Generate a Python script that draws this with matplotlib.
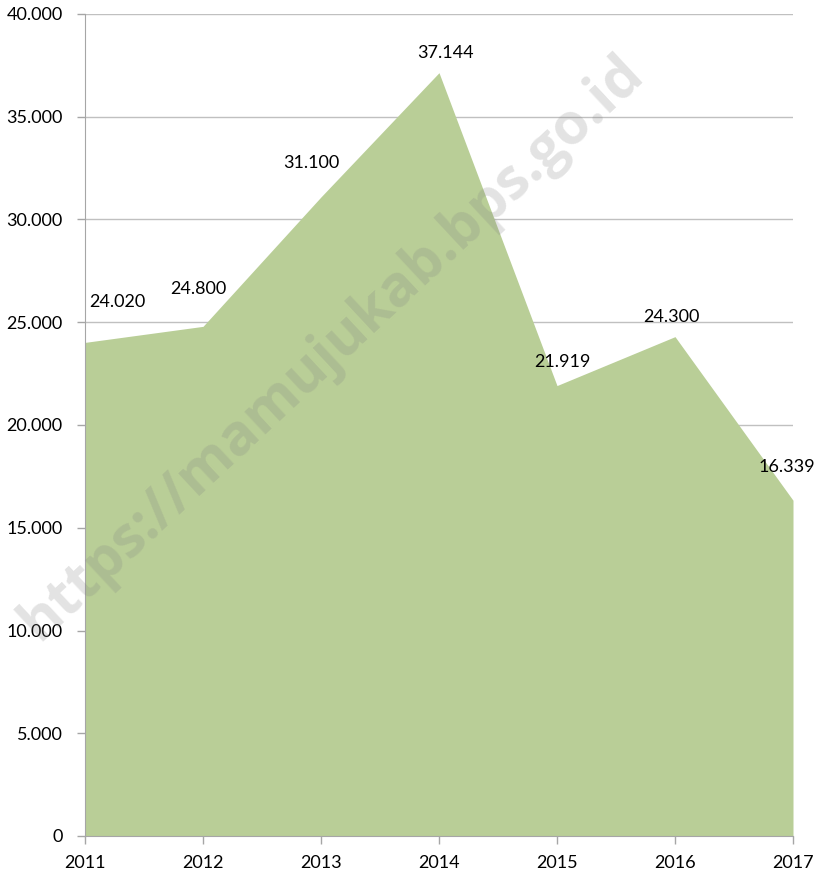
import matplotlib
matplotlib.use("Agg")
import matplotlib.pyplot as plt
from matplotlib.ticker import FuncFormatter

years = [2011, 2012, 2013, 2014, 2015, 2016, 2017]
values = [24020, 24800, 31100, 37144, 21919, 24300, 16339]
labels = ["24.020", "24.800", "31.100", "37.144", "21.919", "24.300", "16.339"]
label_offsets = [(32, -40), (-5, -37), (-10, -34), (6, -20), (5, -24), (-4, -20), (-6, -33)]

plt.rcParams['font.family'] = ['Lato', 'DejaVu Sans']

fig = plt.figure(figsize=(8.2, 8.77), dpi=100)
ax = fig.add_axes([85/820, 1-836/877, (793-85)/820, (836-14)/877])

ax.fill_between(years, values, 0, color="#B9CE97", linewidth=0, zorder=2)

ax.set_xlim(2011, 2017)
ax.set_ylim(0, 40000)
ax.set_yticks(range(0, 40001, 5000))
ax.set_xticks(years)
ax.yaxis.set_major_formatter(FuncFormatter(lambda v, p: f"{int(v):,}".replace(",", ".")))
ax.grid(axis='y', color="#C0C0C0", linewidth=1, zorder=1)
for s in ['top', 'right']:
    ax.spines[s].set_visible(False)
for s in ['left', 'bottom']:
    ax.spines[s].set_color("#A6A6A6")
    ax.spines[s].set_zorder(3)
ax.tick_params(axis='both', colors="#A6A6A6", labelcolor="black", labelsize=13, length=6, width=1)
ax.tick_params(axis='y', pad=10)
ax.tick_params(axis='x', pad=8)

for x, y, t, (dx, dy) in zip(years, values, labels, label_offsets):
    ax.annotate(t, (x, y), xytext=(dx * 0.72, -dy * 0.72), textcoords='offset points',
                ha='center', va='center', fontsize=13, color='black', zorder=5)

fig.text(332/820, 1-348/877, "https://mamujukab.bps.go.id", rotation=43, ha='center', va='center',
         fontsize=41, fontweight='bold', family=['Open Sans', 'DejaVu Sans'],
         color='#808080', alpha=0.22, zorder=10)

fig.savefig("out.png", dpi=100)
